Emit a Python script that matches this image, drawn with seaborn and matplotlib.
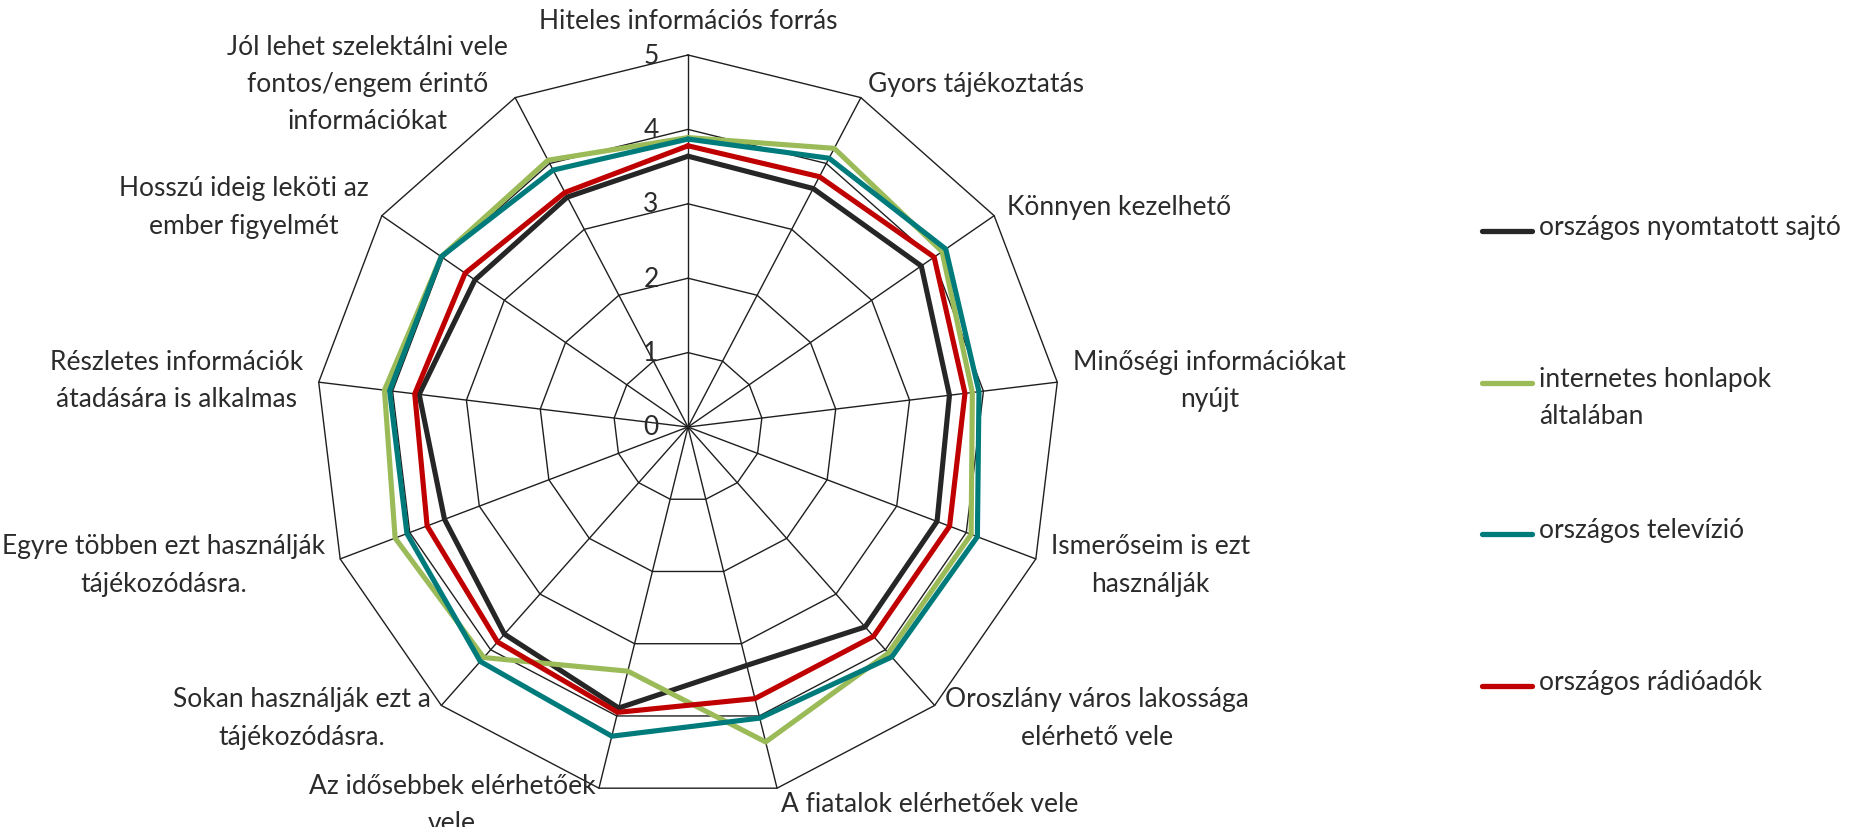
import numpy as np
import pandas as pd
import matplotlib
matplotlib.use("Agg")
import matplotlib.pyplot as plt
import seaborn as sns

categories = [
    "Hiteles információs forrás",
    "Gyors tájékoztatás",
    "Könnyen kezelhető",
    "Minőségi információkat\nnyújt",
    "Ismerőseim is ezt\nhasználják",
    "Oroszlány város lakossága\nelérhető vele",
    "A fiatalok elérhetőek vele",
    "Az idősebbek elérhetőek\nvele",
    "Sokan használják ezt a\ntájékozódásra.",
    "Egyre többen ezt használják\ntájékozódásra.",
    "Részletes információk\nátadására is alkalmas",
    "Hosszú ideig leköti az\nember figyelmét",
    "Jól lehet szelektálni vele\nfontos/engem érintő\ninformációkat",
]

series_names = [
    "országos nyomtatott sajtó",
    "internetes honlapok\náltalában",
    "országos televízió",
    "országos rádióadók",
]

nyomtatott_sajto = [3.64, 3.62, 3.81, 3.54, 3.58, 3.59, 3.30, 3.89, 3.72, 3.50, 3.64, 3.48, 3.49]
internetes_honlapok = [3.89, 4.23, 4.15, 3.85, 4.07, 4.06, 4.36, 3.38, 4.14, 4.21, 4.11, 4.03, 4.05]
televizio = [3.87, 4.08, 4.21, 3.94, 4.16, 4.13, 4.03, 4.28, 4.21, 4.04, 4.04, 4.03, 3.90]
radioadok = [3.78, 3.80, 4.02, 3.75, 3.76, 3.76, 3.76, 3.95, 3.86, 3.75, 3.70, 3.64, 3.56]

radial_ticks = [0, 1, 2, 3, 4, 5]

series_values = [nyomtatott_sajto, internetes_honlapok, televizio, radioadok]
colors = ["#262626", "#9BBB59", "#007B7B", "#C00000"]

sns.set_theme(style="white")
plt.rcParams["font.family"] = ["Lato", "DejaVu Sans"]
text_color = "#2b2b2b"
fsize = 19
lsp = 1.62

n = len(categories)
theta = np.arange(n) * 2 * np.pi / n
theta_closed = np.append(theta, 2 * np.pi)

rows = []
for name, vals in zip(series_names, series_values):
    closed = list(vals) + [vals[0]]
    for i, (t, v) in enumerate(zip(theta_closed, closed)):
        rows.append({"series": name, "theta": t, "value": v, "order": i})
df = pd.DataFrame(rows)

W, H = 1854, 828
cx, cy, R = 688, 428, 372
fig = plt.figure(figsize=(W / 100, H / 100), dpi=100)
ax = fig.add_axes([(cx - R) / W, (H - cy - R) / H, 2 * R / W, 2 * R / H], projection="polar")
ax.set_theta_zero_location("N")
ax.set_theta_direction(-1)
ax.set_ylim(0, radial_ticks[-1])
ax.grid(False)
ax.set_xticks([])
ax.set_yticks([])
ax.spines["polar"].set_visible(False)
ax.patch.set_alpha(0)

grid_color = "#1f1f1f"
for k in radial_ticks[1:]:
    ax.plot(theta_closed, [k] * len(theta_closed), color=grid_color, lw=1.0, clip_on=False, zorder=1)
for t in theta:
    ax.plot([t, t], [0, radial_ticks[-1]], color=grid_color, lw=1.0, clip_on=False, zorder=1)

sns.lineplot(data=df, x="theta", y="value", hue="series", hue_order=series_names,
             palette=colors, sort=False, estimator=None, lw=3.7, ax=ax, legend=False,
             clip_on=False, zorder=3)
for line in ax.get_lines()[-4:]:
    line.set_solid_joinstyle("miter")
ax.set_xlabel("")
ax.set_ylabel("")
ax.set_xticks([])
ax.set_yticks([])

for k in radial_ticks:
    ax.annotate(str(k), xy=(0, k), xytext=(-37, 0), textcoords="offset pixels",
                ha="center", va="center", fontsize=fsize, color=text_color)

off = 16
for t, lab in zip(theta, categories):
    s, c = np.sin(t), np.cos(t)
    if s > 0.05:
        ha = "left"
    elif s < -0.05:
        ha = "right"
    else:
        ha = "center"
    va = "bottom" if c > 0.99 else "center"
    ax.annotate(lab, xy=(t, radial_ticks[-1]), xytext=(off * s, off * c + (6 if va == "bottom" else 0)),
                textcoords="offset pixels", ha=ha, va=va, multialignment="center",
                fontsize=fsize, color=text_color, linespacing=lsp, annotation_clip=False)

# legend
lax = fig.add_axes([0, 0, 1, 1])
lax.set_xlim(0, W)
lax.set_ylim(H, 0)
lax.axis("off")
lax.patch.set_alpha(0)
leg_y = [232, 384, 535, 687]
for yy, name, col in zip(leg_y, series_names, colors):
    lax.plot([1482, 1532], [yy, yy], color=col, lw=3.8, solid_capstyle="round")
    lax.text(1539, yy - 17, name, ha="left", va="top", fontsize=fsize, color=text_color,
             linespacing=lsp)

fig.savefig("out.png", dpi=100)
